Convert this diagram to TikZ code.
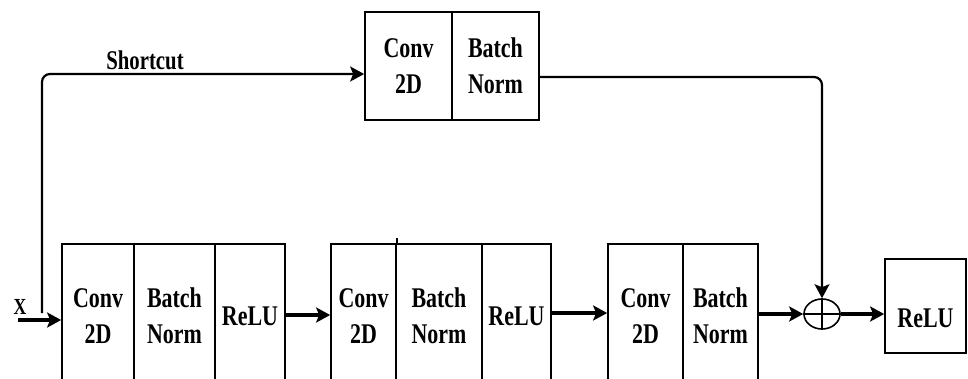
\documentclass[tikz,border=0pt]{standalone}
\usepackage{fontspec}
\setmainfont{Liberation Serif}[FakeStretch=0.77]
\usetikzlibrary{arrows.meta,shapes.geometric}
\begin{document}
\begin{tikzpicture}[x=1pt,y=-1pt,
  cell/.style={draw,line width=1.7pt,inner sep=0pt,align=center,
    font=\bfseries\fontsize{28.5}{36}\selectfont},
  tip/.style={-{Stealth[length=14pt,width=15pt,inset=3pt]}},
  arr/.style={line width=3.2pt,tip},
  link/.style={line width=2.2pt,rounded corners=8pt},
  linkarr/.style={link,tip},
  lbl/.style={inner sep=0pt,font=\bfseries\fontsize{27}{32}\selectfont}]
\useasboundingbox (0,0) rectangle (968,378);
\clip (0,0) rectangle (968,378);

% shortcut branch: convolution and batch norm
\node[cell,minimum width=87pt,minimum height=108pt] (tc) at (408.5,66) {Conv\\2D};
\node[cell,minimum width=87pt,minimum height=108pt] (tb) at (495.5,66) {Batch\\Norm};

% main branch, block 1
\node[cell,minimum width=72pt,minimum height=144pt] (b1c) at (98,316) {Conv\\2D};
\node[cell,minimum width=81pt,minimum height=144pt] (b1b) at (174.5,316) {Batch\\Norm};
\node[cell,minimum width=70pt,minimum height=144pt] (b1r) at (250,316) {ReLU};
% block 2
\node[cell,minimum width=65pt,minimum height=144pt] (b2c) at (363.5,316) {Conv\\2D};
\node[cell,minimum width=86pt,minimum height=144pt] (b2b) at (439,316) {Batch\\Norm};
\node[cell,minimum width=69pt,minimum height=144pt] (b2r) at (516.5,316) {ReLU};
\draw[line width=1.7pt] (b2c.north east) -- ++(0,-5);
% block 3
\node[cell,minimum width=75pt,minimum height=144pt] (b3c) at (645.5,316) {Conv\\2D};
\node[cell,minimum width=75pt,minimum height=144pt] (b3b) at (720.5,316) {Batch\\Norm};

% addition and output activation
\node[draw,ellipse,line width=1.6pt,minimum width=36pt,minimum height=30pt,inner sep=0pt] (sum) at (822,314) {};
\draw[line width=1.6pt] (sum.north) -- (sum.south) (sum.west) -- (sum.east);
\node[cell,minimum width=81pt,minimum height=94pt] (relu) at (925.5,306) {};
\node[lbl,font=\bfseries\fontsize{28.5}{36}\selectfont] (relutext) at (925.5,318) {ReLU};

% input
\coordinate (xin) at (18,320);
\coordinate (split) at (42,313);
\node[lbl,font=\bfseries\fontsize{23}{26}\selectfont] (xlab) at (20,307) {X};
\draw[arr] (xin) -- (xin -| b1c.west);

% shortcut path
\draw[linkarr] (split) |- (tc.west |- 0,74);
\node[lbl] (sclab) at (145,60) {Shortcut};
\draw[linkarr] (tb.east |- 0,77) -| (sum.north);

% main path connectors
\draw[arr] (b1r.east |- 0,315) -- (b2c.west |- 0,315);
\draw[arr] (b2r.east |- 0,313) -- (b3c.west |- 0,313);
\draw[arr] (b3b.east |- 0,314) -- (sum.west);
\draw[arr] (sum.east) -- (relu.west |- sum.east);
\end{tikzpicture}
\end{document}
